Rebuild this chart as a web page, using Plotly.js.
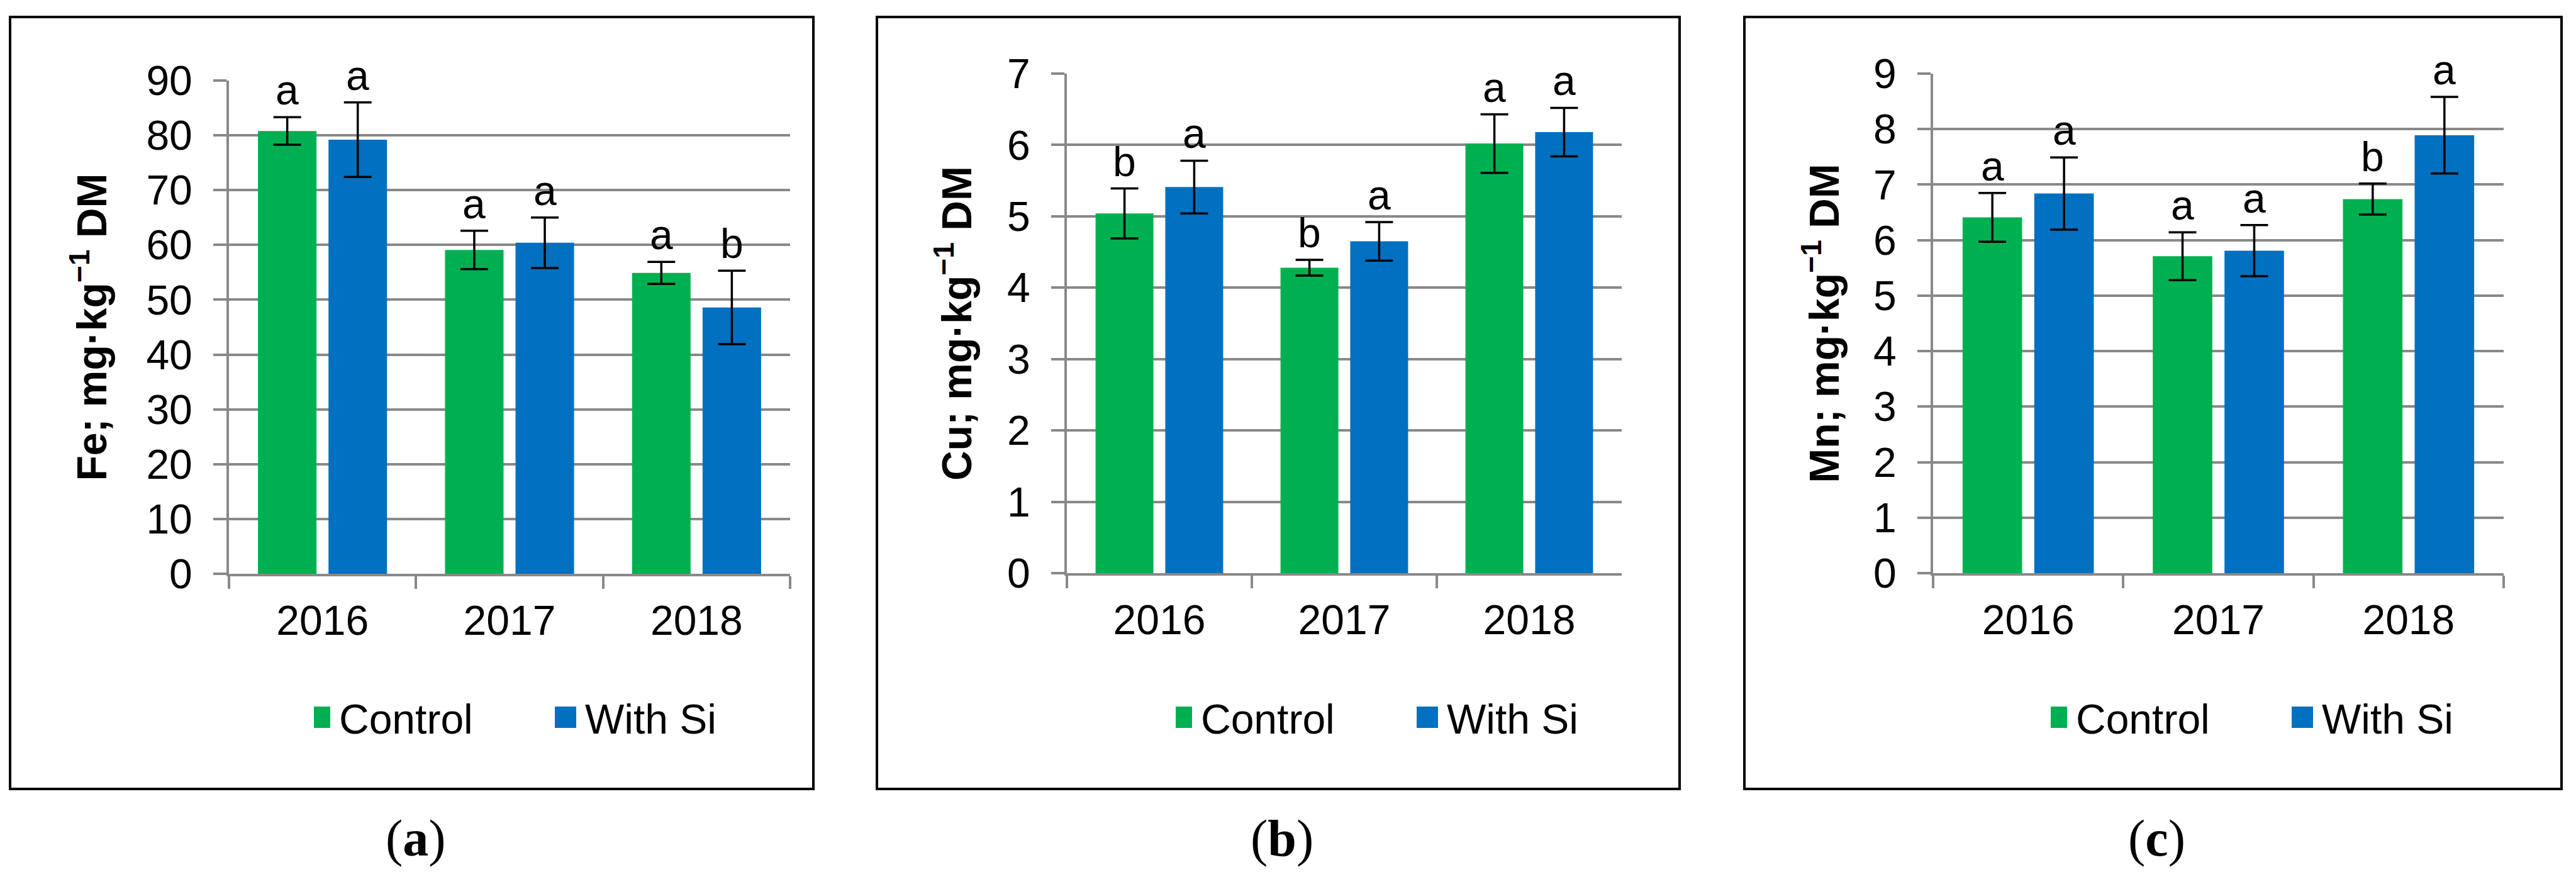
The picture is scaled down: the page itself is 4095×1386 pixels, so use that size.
<!DOCTYPE html>
<html>
<head>
<meta charset="utf-8">
<script src="https://cdn.plot.ly/plotly-3.0.1.min.js"></script>
<style>html,body{margin:0;padding:0;background:#fff;}</style>
</head>
<body>
<div id="chart" style="width:4095px;height:1386px;"></div>
<script>
// ---------------- DATA ----------------
const years = ['2016', '2017', '2018'];
const seriesNames = ['Control', 'With Si'];

// (a) Fe
const feControl = [80.8, 59.1, 54.9];
const feControlErr = [2.5, 3.5, 2.0];
const feSi = [79.2, 60.4, 48.6];
const feSiErr = [6.8, 4.6, 6.7];
const feControlLetters = ['a', 'a', 'a'];
const feSiLetters = ['a', 'a', 'b'];

// (b) Cu
const cuControl = [5.04, 4.28, 6.02];
const cuControlErr = [0.35, 0.11, 0.41];
const cuSi = [5.41, 4.65, 6.18];
const cuSiErr = [0.37, 0.27, 0.34];
const cuControlLetters = ['b', 'b', 'a'];
const cuSiLetters = ['a', 'a', 'a'];

// (c) Mn
const mnControl = [6.41, 5.71, 6.74];
const mnControlErr = [0.44, 0.43, 0.28];
const mnSi = [6.84, 5.81, 7.89];
const mnSiErr = [0.65, 0.46, 0.69];
const mnControlLetters = ['a', 'a', 'b'];
const mnSiLetters = ['a', 'a', 'a'];

const yTitles = ['Fe; mg·kg<sup>−1</sup> DM', 'Cu; mg·kg<sup>−1</sup> DM', 'Mn; mg·kg<sup>−1</sup> DM'];
const captions = ['a', 'b', 'c'];
const yMax = [90, 7, 9];
const yStep = [10, 1, 1];

// ---------------- STYLE / LAYOUT ----------------
const W = 4095, H = 1386;
const FONT = 'Liberation Sans, Arial, Helvetica, sans-serif';
const SERIF = 'Liberation Serif, Times New Roman, serif';
const GREEN = '#00B050', BLUE = '#0070C0', GRID = '#898989';
const BARGAP = 0.246, BARGROUPGAP = 0.17;

const panelData = [
  {c: feControl, ce: feControlErr, s: feSi, se: feSiErr, cl: feControlLetters, sl: feSiLetters},
  {c: cuControl, ce: cuControlErr, s: cuSi, se: cuSiErr, cl: cuControlLetters, sl: cuSiLetters},
  {c: mnControl, ce: mnControlErr, s: mnSi, se: mnSiErr, cl: mnControlLetters, sl: mnSiLetters}
];
// geometry in pixels
const geom = [
  {xd: [364, 1256], yd: [128, 912], frame: [16, 27, 1293, 1254], legX: 499, standoff: 42},
  {xd: [1696, 2578], yd: [117, 911], frame: [1394, 27, 2670, 1254], legX: 1869, standoff: 36},
  {xd: [3073, 3980], yd: [117, 911], frame: [2773, 27, 4072, 1254], legX: 3260, standoff: 34}
];

const traces = [];
const annotations = [];
const shapes = [];
const layout = {
  width: W, height: H,
  margin: {l: 0, r: 0, t: 0, b: 0},
  paper_bgcolor: '#ffffff',
  plot_bgcolor: 'rgba(0,0,0,0)',
  barmode: 'group',
  bargap: BARGAP,
  bargroupgap: BARGROUPGAP,
  font: {family: FONT, size: 66, color: '#000'},
  showlegend: true
};

panelData.forEach((p, i) => {
  const g = geom[i];
  const sfx = i === 0 ? '' : String(i + 1);
  const xa = 'x' + sfx, ya = 'y' + sfx;
  const legName = 'legend' + sfx;

  const series = [
    {name: seriesNames[0], y: p.c, e: p.ce, color: GREEN, letters: p.cl, side: -1},
    {name: seriesNames[1], y: p.s, e: p.se, color: BLUE, letters: p.sl, side: 1}
  ];
  const catW = (g.xd[1] - g.xd[0]) / years.length;
  const off = catW * (1 - BARGAP) / 4;

  series.forEach(s => {
    traces.push({
      type: 'bar', name: s.name, x: years, y: s.y,
      xaxis: xa, yaxis: ya, legend: legName,
      marker: {color: s.color, line: {width: 0}},
      error_y: {type: 'data', array: s.e, visible: true, color: '#000', thickness: 3.5, width: 22}
    });
    years.forEach((yr, j) => {
      annotations.push({
        xref: xa, yref: ya, x: j, y: s.y[j] + s.e[j],
        text: s.letters[j], showarrow: false,
        xanchor: 'center', yanchor: 'bottom',
        xshift: s.side * off, yshift: 4,
        font: {family: FONT, size: 66, color: '#000'}
      });
    });
  });

  layout['xaxis' + sfx] = {
    domain: [g.xd[0] / W, g.xd[1] / W], anchor: ya,
    type: 'category', range: [-0.5, years.length - 0.5], autorange: false,
    showgrid: false, zeroline: false,
    showline: true, linecolor: GRID, linewidth: 4,
    ticks: 'outside', tickson: 'boundaries', ticklen: 20, tickwidth: 4, tickcolor: GRID,
    tickangle: 0, ticklabelstandoff: 14,
    tickfont: {family: FONT, size: 66, color: '#000'},
    fixedrange: true
  };
  layout['yaxis' + sfx] = {
    domain: [1 - g.yd[1] / H, 1 - g.yd[0] / H], anchor: xa,
    range: [0, yMax[i]], autorange: false, dtick: yStep[i], tick0: 0,
    showgrid: true, gridcolor: GRID, gridwidth: 4, zeroline: false,
    showline: true, linecolor: GRID, linewidth: 4,
    ticks: 'outside', ticklen: 21, tickwidth: 4, tickcolor: GRID,
    ticklabelstandoff: 20,
    tickfont: {family: FONT, size: 66, color: '#000'},
    title: {text: '<b>' + yTitles[i] + '</b>', font: {family: FONT, size: 66, color: '#000'}, standoff: g.standoff},
    automargin: false,
    fixedrange: true
  };
  layout[legName] = {
    orientation: 'h', x: g.legX / W, xanchor: 'left',
    y: 1 - 1140 / H, yanchor: 'middle',
    font: {family: FONT, size: 66, color: '#000'},
    bgcolor: 'rgba(0,0,0,0)', borderwidth: 0,
    entrywidth: 346, entrywidthmode: 'pixels',
    traceorder: 'normal'
  };
  shapes.push({
    type: 'rect', xref: 'paper', yref: 'paper',
    x0: g.frame[0] / W, x1: g.frame[2] / W,
    y0: 1 - g.frame[3] / H, y1: 1 - g.frame[1] / H,
    line: {color: '#000', width: 4}, fillcolor: 'rgba(0,0,0,0)'
  });
  annotations.push({
    xref: 'paper', yref: 'paper',
    x: ((g.frame[0] + g.frame[2]) / 2 + 6) / W, y: 1 - 1332 / H,
    xanchor: 'center', yanchor: 'middle', showarrow: false,
    text: '(<b>' + captions[i] + '</b>)',
    font: {family: SERIF, size: 82, color: '#000'}
  });
});

layout.annotations = annotations;
layout.shapes = shapes;

Plotly.newPlot('chart', traces, layout, {displayModeBar: false, staticPlot: true}).then(() => {
  // enlarge the legend swatches to the reference's square size, leaving a gap before the label
  document.querySelectorAll('.legendpoints path').forEach(pth => {
    const t = pth.getAttribute('transform') || '';
    pth.setAttribute('transform', t + ' translate(-11,0) scale(2.83)');
  });
});
</script>
</body>
</html>
